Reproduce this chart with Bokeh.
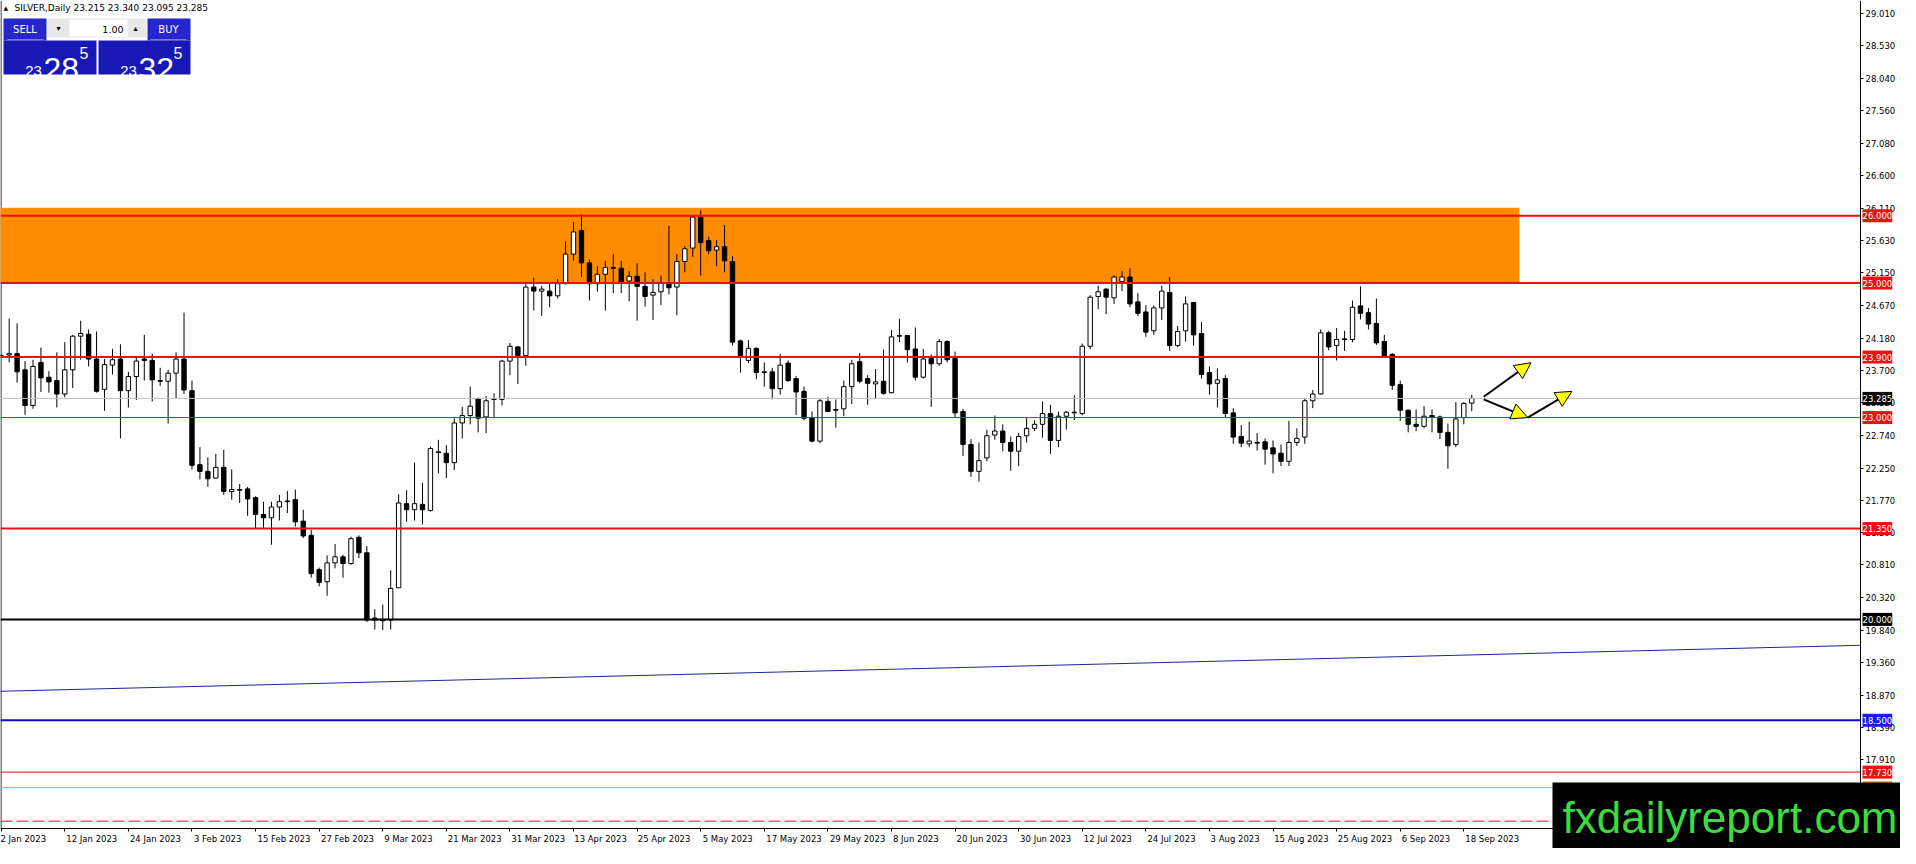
import numpy as np
from bokeh.plotting import figure
from bokeh.models import (Range1d, FixedTicker, PrintfTickFormatter, Label, LinearAxis,
                          Arrow, NormalHead, ColumnDataSource)
from bokeh.core.properties import value
from bokeh.embed import file_html
from bokeh.resources import INLINE

# ---------------- data (daily candles, 2 Jan 2023 .. 19 Sep 2023) ----------------
opens = [23.91, 23.93, 23.95, 23.71, 23.18, 23.82, 23.60, 23.55, 23.35, 23.71,
         24.21, 24.24, 23.87, 23.42, 23.78, 23.87, 23.40, 23.61, 23.87, 23.85,
         23.55, 23.54, 23.66, 23.87, 23.40, 22.30, 22.20, 22.10, 22.26, 21.90,
         21.93, 21.94, 21.81, 21.56, 21.51, 21.67, 21.76, 21.78, 21.46, 21.25,
         20.74, 20.56, 20.84, 20.93, 20.83, 21.22, 20.99, 20.02, 20.00, 19.99,
         20.47, 21.72, 21.63, 21.71, 21.62, 22.49, 22.47, 22.33, 22.92, 23.03,
         23.28, 23.01, 23.28, 23.27, 23.84, 24.05, 23.92, 24.94, 24.88, 24.88,
         24.81, 24.99, 25.43, 25.78, 25.30, 24.99, 25.13, 25.23, 25.22, 25.03,
         25.10, 24.95, 24.82, 24.87, 24.99, 24.94, 25.32, 25.52, 25.98, 25.63,
         25.49, 25.54, 25.32, 24.14, 23.85, 24.03, 23.68, 23.68, 23.43, 23.81,
         23.58, 23.39, 23.00, 22.65, 23.24, 23.12, 23.13, 23.46, 23.83, 23.58,
         23.50, 23.54, 23.37, 24.22, 24.22, 24.02, 23.60, 23.88, 23.80, 24.13,
         23.88, 23.09, 22.60, 22.20, 22.40, 22.74, 22.80, 22.63, 22.50, 22.73,
         22.84, 22.90, 23.06, 22.66, 23.02, 23.08, 23.06, 24.06, 24.80, 24.91,
         24.78, 25.02, 25.09, 24.72, 24.57, 24.29, 24.63, 24.86, 24.07, 24.29,
         24.71, 24.25, 23.67, 23.51, 23.58, 23.07, 22.72, 22.61, 22.63, 22.64,
         22.55, 22.47, 22.35, 22.63, 22.71, 23.25, 23.35, 24.26, 24.07, 24.17,
         24.16, 24.66, 24.56, 24.40, 24.13, 23.94, 23.49, 23.11, 22.90, 22.87,
         23.03, 23.01, 22.78, 22.60, 23.00, 23.215]
highs = [23.94, 24.47, 24.40, 23.84, 23.86, 24.04, 23.69, 23.97, 24.12, 24.23,
         24.44, 24.31, 24.28, 23.87, 24.02, 24.09, 23.68, 23.89, 24.23, 23.95,
         23.74, 23.71, 23.97, 24.56, 23.55, 22.56, 22.41, 22.46, 22.52, 22.23,
         22.01, 21.97, 21.83, 21.75, 21.75, 21.85, 21.91, 21.93, 21.63, 21.33,
         20.77, 20.95, 21.12, 20.96, 21.23, 21.25, 21.09, 20.15, 20.22, 20.73,
         21.86, 21.92, 22.33, 22.03, 22.57, 22.67, 22.59, 22.99, 23.16, 23.46,
         23.30, 23.32, 23.36, 23.86, 24.11, 24.06, 24.99, 25.08, 24.96, 24.99,
         25.06, 25.62, 25.91, 26.02, 25.35, 25.25, 25.33, 25.43, 25.33, 25.18,
         25.30, 25.16, 25.06, 25.11, 25.85, 25.43, 25.55, 26.00, 26.08, 25.69,
         25.64, 25.86, 25.40, 24.16, 24.15, 24.04, 23.82, 23.74, 23.95, 23.85,
         23.62, 23.46, 23.09, 23.28, 23.31, 23.27, 23.55, 23.86, 23.96, 23.63,
         23.72, 24.01, 24.30, 24.47, 24.23, 24.34, 24.02, 23.94, 24.17, 24.15,
         23.98, 23.13, 22.68, 22.63, 22.82, 23.03, 22.90, 22.72, 22.77, 23.01,
         22.96, 23.24, 23.19, 23.09, 23.10, 23.33, 24.10, 24.82, 24.96, 24.92,
         25.11, 25.18, 25.22, 24.85, 24.67, 24.67, 24.96, 25.09, 24.36, 24.80,
         24.72, 24.42, 23.76, 23.73, 23.63, 23.14, 22.89, 22.94, 22.77, 22.69,
         22.66, 22.60, 22.95, 22.84, 23.28, 23.41, 24.31, 24.29, 24.33, 24.29,
         24.74, 24.95, 24.63, 24.77, 24.23, 23.96, 23.55, 23.12, 23.12, 23.17,
         23.12, 23.03, 22.91, 23.23, 23.23, 23.340]
lows = [23.89, 23.82, 23.52, 23.04, 23.13, 23.38, 23.37, 23.15, 23.30, 23.44,
        23.86, 23.76, 23.37, 23.10, 23.64, 22.69, 23.15, 23.26, 23.55, 23.24,
        23.47, 22.91, 23.29, 23.35, 22.23, 22.08, 21.97, 22.10, 21.85, 21.78,
        21.73, 21.54, 21.35, 21.35, 21.11, 21.47, 21.58, 21.38, 21.21, 20.62,
        20.49, 20.35, 20.76, 20.62, 20.81, 20.91, 19.96, 19.85, 19.84, 19.85,
        20.47, 21.45, 21.47, 21.41, 21.60, 22.17, 22.10, 22.22, 22.69, 22.90,
        22.78, 22.77, 22.99, 23.18, 23.63, 23.50, 23.77, 24.59, 24.51, 24.64,
        24.77, 24.98, 25.33, 25.09, 24.74, 24.87, 24.59, 24.85, 24.85, 24.73,
        24.44, 24.65, 24.45, 24.67, 24.83, 24.52, 25.16, 25.39, 25.11, 25.43,
        25.25, 25.16, 24.07, 23.67, 23.81, 23.57, 23.46, 23.27, 23.34, 23.53,
        23.04, 22.96, 22.63, 22.62, 23.08, 22.85, 23.02, 23.20, 23.51, 23.19,
        23.28, 23.34, 23.36, 24.12, 23.82, 23.55, 23.58, 23.16, 23.77, 23.82,
        22.99, 22.43, 22.12, 22.05, 22.35, 22.67, 22.50, 22.21, 22.28, 22.63,
        22.80, 22.70, 22.46, 22.56, 22.82, 22.96, 23.03, 24.02, 24.61, 24.54,
        24.69, 24.88, 24.64, 24.51, 24.20, 24.23, 24.45, 23.99, 24.05, 24.13,
        24.07, 23.58, 23.34, 23.15, 23.00, 22.61, 22.56, 22.56, 22.51, 22.30,
        22.17, 22.28, 22.28, 22.58, 22.61, 23.14, 23.34, 24.00, 23.85, 23.99,
        24.12, 24.46, 24.31, 24.08, 23.90, 23.41, 22.95, 22.78, 22.80, 22.84,
        22.78, 22.68, 22.24, 22.56, 22.90, 23.095]
closes = [23.92, 23.95, 23.68, 23.18, 23.76, 23.59, 23.53, 23.35, 23.71, 24.21,
          24.25, 23.87, 23.39, 23.79, 23.86, 23.40, 23.61, 23.84, 23.85, 23.56,
          23.54, 23.66, 23.87, 23.41, 22.29, 22.20, 22.09, 22.26, 21.90, 21.93,
          21.92, 21.79, 21.56, 21.51, 21.67, 21.75, 21.75, 21.45, 21.24, 20.68,
          20.55, 20.84, 20.93, 20.83, 21.20, 20.99, 19.99, 19.99, 19.98, 20.46,
          21.73, 21.63, 21.72, 21.63, 22.54, 22.48, 22.33, 22.92, 23.03, 23.17,
          22.99, 23.25, 23.27, 23.84, 24.06, 23.92, 24.94, 24.88, 24.91, 24.81,
          24.99, 25.43, 25.76, 25.30, 24.99, 25.13, 25.23, 25.22, 25.01, 25.10,
          24.95, 24.80, 24.86, 25.01, 24.93, 25.32, 25.51, 25.98, 25.60, 25.48,
          25.54, 25.33, 24.12, 23.90, 24.03, 23.67, 23.67, 23.43, 23.78, 23.55,
          23.38, 22.99, 22.65, 23.25, 23.09, 23.11, 23.46, 23.80, 23.54, 23.51,
          23.53, 23.36, 24.20, 24.21, 24.01, 23.60, 23.87, 23.80, 24.13, 23.86,
          23.07, 22.60, 22.20, 22.36, 22.73, 22.80, 22.63, 22.50, 22.72, 22.84,
          22.90, 23.06, 22.66, 23.02, 23.08, 23.07, 24.06, 24.79, 24.87, 24.79,
          25.09, 25.09, 24.69, 24.55, 24.27, 24.63, 24.88, 24.07, 24.28, 24.69,
          24.23, 23.64, 23.50, 23.56, 23.06, 22.71, 22.62, 22.65, 22.62, 22.53,
          22.46, 22.35, 22.63, 22.69, 23.25, 23.35, 24.26, 24.05, 24.16, 24.16,
          24.64, 24.55, 24.39, 24.11, 23.92, 23.48, 23.11, 22.90, 22.87, 23.02,
          23.00, 22.78, 22.58, 22.98, 23.21, 23.285]

date_labels = ["2 Jan 2023", "12 Jan 2023", "24 Jan 2023", "3 Feb 2023", "15 Feb 2023",
               "27 Feb 2023", "9 Mar 2023", "21 Mar 2023", "31 Mar 2023", "13 Apr 2023",
               "25 Apr 2023", "5 May 2023", "17 May 2023", "29 May 2023", "8 Jun 2023",
               "20 Jun 2023", "30 Jun 2023", "12 Jul 2023", "24 Jul 2023", "3 Aug 2023",
               "15 Aug 2023", "25 Aug 2023", "6 Sep 2023", "18 Sep 2023"]
date_label_bars = [0, 8, 16, 24, 32, 40, 48, 56, 64, 72, 80, 88, 96, 104, 112, 120,
                   128, 136, 144, 152, 160, 168, 176, 184]

price_ticks = [29.010, 28.530, 28.040, 27.560, 27.080, 26.600, 26.110, 25.630, 25.150,
               24.670, 24.180, 23.700, 23.220, 22.740, 22.250, 21.770, 21.290, 20.810,
               20.320, 19.840, 19.360, 18.870, 18.390, 17.910, 17.430]

# resistance zone (bar index range, price range)
zone_bars = [-5, 191]
zone_prices = [25.0, 26.12]

# horizontal levels
level_prices = [26.0, 25.0, 23.9, 23.0, 21.35, 20.0, 18.5, 17.73, 17.5, 17.0]
level_colors = ["#ee1111", "#ee1111", "#ee1111", "#ee1111", "#ee1111", "#000000",
                "#0a0ac8", "#ee1111", "#f2a83a", "#ee1111"]
level_label_bg = ["#ee1111", "#ee1111", "#ee1111", "#ee1111", "#ee1111", "#000000",
                  "#1c1ce6", "#ee1111", "#f2a83a", "#ee1111"]
level_widths = [2, 2, 2, 1, 2, 2, 2, 1, 1, 1]
level_dashes = ["solid"] * 9 + ["12 4"]

bid_price = 23.285
symbol_title = "SILVER,Daily"

# sloping trend line (bar, price)
trend_bars = [-0.46, 233.9]
trend_prices = [18.93, 19.615]

# arrows drawn on chart (bar, price) start -> end
arrow_starts = [(186.5, 23.31), (186.5, 23.27), (192.04, 23.0)]
arrow_ends = [(192.45, 23.815), (192.04, 23.0), (197.6, 23.39)]

# ---------------- geometry ----------------
W, H = 1900, 848
PPB = 7.949          # pixels per bar
PPU = 67.27          # pixels per price unit
X0 = -0.088
X1 = X0 + W / PPB
Y1 = 29.20
Y0 = Y1 - H / PPU
X_AXIS = X0 + 1860 / PPB     # price axis position (bar units)
Y_AXIS = Y1 - 828 / PPU      # time axis position (price units)


def cx(px):  # canvas pixel x -> data x
    return X0 + px / PPB


def cy(py):  # canvas pixel y -> data y
    return Y1 - py / PPU


def rx(px):  # reference-chart pixel (top-left block) -> data x
    return cx(px - 3)


def ry(py):
    return cy(py - 2)


p = figure(width=W, height=H, output_backend="svg", toolbar_location=None, title=None,
           x_range=Range1d(X0, X1), y_range=Range1d(Y0, Y1),
           x_axis_location=None, y_axis_location=None, min_border=0)
p.grid.visible = False
p.outline_line_color = None
p.background_fill_color = "white"
p.border_fill_color = "white"

AX_FONT = "DejaVu Sans"
DJV = {"0": .636, "1": .636, "2": .636, "3": .636, "4": .636, "5": .636, "6": .636,
       "7": .636, "8": .636, "9": .636, " ": .318, "J": .295, "a": .613, "n": .634,
       "F": .575, "e": .615, "b": .635, "M": .863, "r": .411, "A": .684, "p": .635,
       "y": .592, "u": .634, "l": .278, "g": .635, "S": .635}


def left_anchored(s):
    w = sum(DJV.get(ch, .6) for ch in s)
    return "\u00a0" * (int(round(w / .318)) + 1) + s


x_overrides = {b: (s if i == 0 else left_anchored(s))
               for i, (b, s) in enumerate(zip(date_label_bars, date_labels))}

yax = LinearAxis(fixed_location=X_AXIS, ticker=FixedTicker(ticks=price_ticks),
                 formatter=PrintfTickFormatter(format="%.3f"), bounds=(Y_AXIS, Y1))
xax = LinearAxis(fixed_location=Y_AXIS, ticker=FixedTicker(ticks=date_label_bars),
                 bounds=(X0, X_AXIS), major_label_overrides=x_overrides)
for ax in (yax, xax):
    ax.axis_line_color = "black"
    ax.axis_line_width = 1
    ax.major_tick_line_color = "black"
    ax.minor_tick_line_color = None
    ax.major_tick_in = 0
    ax.major_tick_out = 3
    ax.major_label_text_font = AX_FONT
    ax.major_label_text_font_size = "8.5px"
    ax.major_label_text_color = "black"
    ax.major_label_standoff = 2
p.add_layout(yax, "right")
p.add_layout(xax, "below")

# chart window left border
p.segment(x0=[cx(0.5)], x1=[cx(0.5)], y0=[Y_AXIS], y1=[Y1], line_color="black", line_width=1)

# zone
p.quad(left=[zone_bars[0]], right=[zone_bars[1]], bottom=[zone_prices[0]], top=[zone_prices[1]],
       fill_color="#ff8c00", line_color=None)

# trend line
p.line(trend_bars, trend_prices, line_color="#23239a", line_width=1)

# candles
o = np.array(opens); h = np.array(highs); l = np.array(lows); c = np.array(closes)
xs = np.arange(len(o))
bull = c >= o
src = ColumnDataSource(dict(x=xs, top=np.maximum(o, c), bottom=np.minimum(o, c), high=h, low=l,
                            fill=np.where(bull, "white", "black")))
p.segment(x0="x", y0="high", x1="x", y1="low", source=src, line_color="black", line_width=1)
p.vbar(x="x", width=0.55, top="top", bottom="bottom", fill_color="fill", line_color="black",
       line_width=1, source=src)

# bid line and levels (stop at the price axis)
p.segment(x0=[X0], x1=[X_AXIS], y0=[bid_price], y1=[bid_price], line_color="#c0c0c0", line_width=1)
for lp, lc, lw, ld in zip(level_prices, level_colors, level_widths, level_dashes):
    p.segment(x0=[X0], x1=[X_AXIS], y0=[lp], y1=[lp], line_color=lc, line_width=lw, line_dash=ld)

# arrows
for (xs0, ys0), (xe, ye) in zip(arrow_starts, arrow_ends):
    p.add_layout(Arrow(end=NormalHead(size=16, fill_color="#ffff00", line_color="black", line_width=1),
                       x_start=xs0, y_start=ys0, x_end=xe, y_end=ye,
                       line_color="black", line_width=2))

# price tags on the axis
for lp, bg in zip(level_prices + [bid_price], level_label_bg + ["#000000"]):
    p.add_layout(Label(x=X_AXIS, y=lp, x_offset=2, text=f"{lp:.3f}", text_font=AX_FONT,
                       text_font_size="8.5px", text_color="white", text_align="left",
                       text_baseline="middle", background_fill_color=bg, padding=(0, 3)))

# ---------------- trading panel (top-left) ----------------
TF = value("DejaVu Sans")
p.text(x=[rx(6)], y=[ry(9)], text=["▲"], text_font=TF, text_font_size="6px",
       text_baseline="middle", text_color="black")
p.text(x=[rx(17)], y=[ry(9)],
       text=[f"{symbol_title}  {opens[-1]:.3f} {highs[-1]:.3f} {lows[-1]:.3f} {closes[-1]:.3f}"],
       text_font=TF, text_font_size="9px", text_baseline="middle", text_color="black")

boxes = [(6, 20, 49, 42, "#2626cc"), (150, 20, 193, 42, "#2626cc"),
         (6, 42, 99, 76, "#1818b4"), (101, 42, 193, 76, "#1818b4"),
         (50, 20, 149, 39, "#e8e8e8"), (72, 21, 130, 38, "#ffffff")]
p.quad(left=[rx(b[0]) for b in boxes], right=[rx(b[2]) for b in boxes],
       top=[ry(b[1]) for b in boxes], bottom=[ry(b[3]) for b in boxes],
       fill_color=[b[4] for b in boxes], line_color=None)
p.segment(x0=[rx(10), rx(153)], x1=[rx(46), rx(189)], y0=[ry(41), ry(41)], y1=[ry(41), ry(41)],
          line_color="#7a7aff", line_width=1)
p.text(x=[rx(27.5), rx(171)], y=[ry(31), ry(31)], text=["SELL", "BUY"], text_font=TF,
       text_font_size="10px", text_color="white", text_align="center", text_baseline="middle")
p.text(x=[rx(61), rx(138)], y=[ry(30), ry(30)], text=["▾", "▴"], text_font=TF,
       text_font_size="8px", text_color="black", text_align="center", text_baseline="middle")
p.text(x=[rx(126)], y=[ry(31)], text=["1.00"], text_font=TF, text_font_size="9.5px",
       text_color="black", text_align="right", text_baseline="middle")

BF = value("Liberation Sans")
p.text(x=[rx(36), rx(131)], y=[ry(72), ry(72)], text=["23", "23"], text_font=BF,
       text_font_size="15px", text_color="white", text_align="center", text_baseline="alphabetic")
p.text(x=[rx(46), rx(141)], y=[ry(70.5), ry(70.5)], text=["28", "32"], text_font=BF,
       text_font_size="32px", text_color="white", text_align="left", text_baseline="alphabetic")
p.text(x=[rx(82), rx(176)], y=[ry(48), ry(48)], text=["5", "5"], text_font=BF,
       text_font_size="16px", text_color="white", text_align="left", text_baseline="top")

# watermark
p.add_layout(Label(x=cx(1552), y=cy(816.5), text="fxdailyreport.com", text_font="Liberation Sans",
                   text_font_size="44px", text_color="#3ddc3d", text_align="left",
                   text_baseline="middle", background_fill_color="black", padding=10))

open("out.html", "w").write(file_html(p, INLINE))
